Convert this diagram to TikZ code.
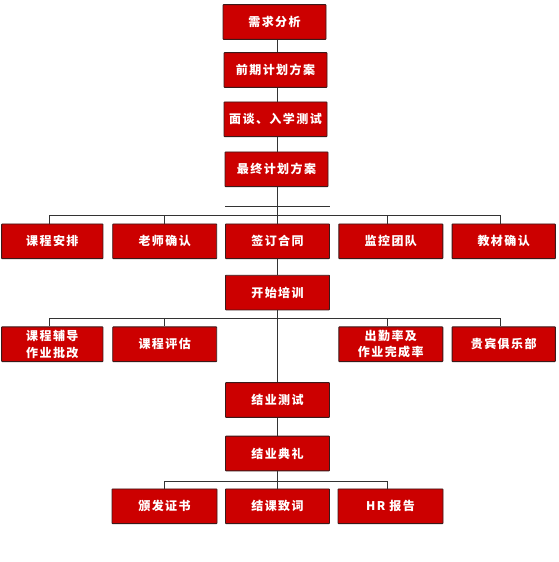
\documentclass[tikz,border=0pt]{standalone}
\usepackage{fontspec}
\newfontfamily\cjk{Noto Sans CJK SC}[LetterSpace=12]
\definecolor{boxred}{HTML}{CC0000}
\definecolor{boxedge}{HTML}{3A1A1A}
\definecolor{linegray}{HTML}{333333}
\begin{document}
\begin{tikzpicture}[x=1pt,y=-1pt,
  stepbox/.style={draw=boxedge, line width=0.9pt, fill=boxred, text=white,
    font=\cjk\bfseries\fontsize{12}{16.5}\selectfont, align=center,
    minimum width=104pt, minimum height=34.7pt, inner sep=0pt, rounded corners=0.6pt},
  conn/.style={draw=linegray, line width=1pt}]
\useasboundingbox (0,0) rectangle (558,562);
% main column
\node[stepbox, minimum width=103pt] (n1) at (274.5,22) {需求分析};
\node[stepbox, minimum width=103pt] (n2) at (275.5,70) {前期计划方案};
\node[stepbox, minimum width=103pt] (n3) at (275.5,119.3) {面谈、入学测试};
\node[stepbox, minimum width=103pt] (n4) at (276.5,169.3) {最终计划方案};
% row 2
\node[stepbox, minimum width=101.3pt] (r2a) at (52.3,241.3) {课程安排};
\node[stepbox] (r2b) at (164.7,241.3) {老师确认};
\node[stepbox] (r2c) at (277.5,241.3) {签订合同};
\node[stepbox] (r2d) at (390.8,241.3) {监控团队};
\node[stepbox, minimum width=103.3pt] (r2e) at (503.7,241.3) {教材确认};
% start training
\node[stepbox] (start) at (277.5,292.6) {开始培训};
% row 3
\node[stepbox, minimum width=101.3pt] (r3a) at (52.3,344.2) {课程辅导\\作业批改};
\node[stepbox] (r3b) at (164.7,344.2) {课程评估};
\node[stepbox] (r3d) at (390.8,344.2) {出勤率及\\作业完成率};
\node[stepbox, minimum width=103.3pt] (r3e) at (503.7,344.2) {贵宾俱乐部};
% lower column
\node[stepbox] (test) at (277.5,400) {结业测试};
\node[stepbox] (cere) at (277.5,453.5) {结业典礼};
% row 4
\node[stepbox, minimum width=105pt] (r4a) at (164.5,506.3) {颁发证书};
\node[stepbox] (r4b) at (277.5,506.3) {结课致词};
\node[stepbox, minimum width=105pt] (r4c) at (390.5,506.3) {HR 报告};
% bus coordinates
\coordinate (b1l) at (49.3,215.7);
\coordinate (b1r) at (500.7,215.7);
\coordinate (s1l) at (225,206.7);
\coordinate (s1r) at (329.7,206.7);
\coordinate (b2l) at (49.3,318.3);
\coordinate (b2r) at (500.7,318.3);
\coordinate (b3l) at (164.3,481);
\coordinate (b3r) at (387.3,481);
\coordinate (d1b) at (164.3,215.7);
\coordinate (d1d) at (387.3,215.7);
\coordinate (d2b) at (164.3,318.3);
\coordinate (d2d) at (387.3,318.3);
% connectors main column
\draw[conn] (n1.south -| 277.7,0) -- (n2.north -| 277.7,0);
\draw[conn] (n2.south -| 277.7,0) -- (n3.north -| 277.7,0);
\draw[conn] (n3.south -| 277.7,0) -- (n4.north -| 277.7,0);
\draw[conn] (n4.south -| 277.7,0) -- (r2c.north -| 277.7,0);
\draw[conn] (s1l) -- (s1r);
\draw[conn] (b1l) -- (b1r);
\draw[conn] (b1l) -- (b1l |- r2a.north);
\draw[conn] (d1b) -- (d1b |- r2b.north);
\draw[conn] (d1d) -- (d1d |- r2d.north);
\draw[conn] (b1r) -- (b1r |- r2e.north);
\draw[conn] (r2c.south -| 277.7,0) -- (start.north -| 277.7,0);
\draw[conn] (start.south -| 277.7,0) -- (test.north -| 277.7,0);
\draw[conn] (b2l) -- (b2r);
\draw[conn] (b2l) -- (b2l |- r3a.north);
\draw[conn] (d2b) -- (d2b |- r3b.north);
\draw[conn] (d2d) -- (d2d |- r3d.north);
\draw[conn] (b2r) -- (b2r |- r3e.north);
\draw[conn] (test.south -| 277.7,0) -- (cere.north -| 277.7,0);
\draw[conn] (cere.south -| 277.7,0) -- (r4b.north -| 277.7,0);
\draw[conn] (b3l) -- (b3r);
\draw[conn] (b3l) -- (b3l |- r4a.north);
\draw[conn] (b3r) -- (b3r |- r4c.north);
\end{tikzpicture}
\end{document}
